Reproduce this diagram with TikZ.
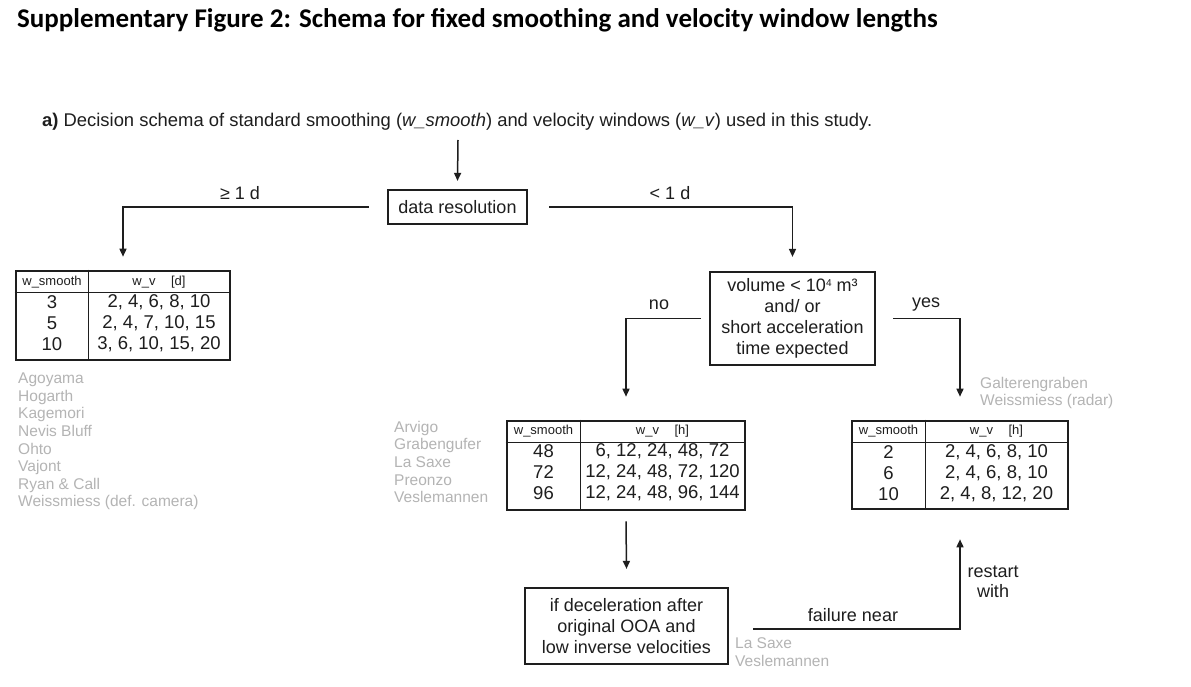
\documentclass[tikz,border=0pt]{standalone}
\usepackage{fontspec}
\setmainfont{Liberation Sans}
\newfontfamily\titlefont{Carlito}
\usetikzlibrary{arrows.meta,calc}
\definecolor{sitegray}{HTML}{B4B4B4}
\definecolor{ink}{HTML}{1E1E1E}
\begin{document}
\begin{tikzpicture}[x=1pt,y=-1pt,
  every node/.style={text=ink},
  box/.style={draw=ink,line width=2.2pt,inner sep=0pt,align=center,font=\fontsize{18}{20.8}\selectfont},
  tab/.style={draw=ink,line width=2.6pt,inner sep=0pt},
  rule/.style={draw=ink,line width=1pt},
  conn/.style={draw=ink,line width=1.5pt,-{Triangle[length=8pt,width=7pt]}},
  lbl/.style={font=\fontsize{18}{21}\selectfont,inner sep=0pt},
  site/.style={text=sitegray,font=\fontsize{15.5}{17.6}\selectfont,align=left,inner sep=0pt,anchor=west},
  hdr/.style={font=\fontsize{13}{15}\selectfont,inner sep=0pt},
  cell/.style={font=\fontsize{18.5}{21}\selectfont,inner sep=0pt,align=center}]
\useasboundingbox (0,0) rectangle (1191,687);
\fill[white] (0,0) rectangle (1191,687);

% title and subtitle
\node[anchor=west,inner sep=0pt,text=black,font=\titlefont\bfseries\fontsize{27}{31}\selectfont] (title) at (17,20)
  {Supplementary Figure 2: Schema for fixed smoothing and velocity window lengths};
\node[anchor=west,inner sep=0pt,font=\fontsize{18.4}{21}\selectfont] (sub) at (42,122)
  {\textbf{a)} Decision schema of standard smoothing (\textit{w\_smooth}) and velocity windows (\textit{w\_v}) used in this study.};

% data resolution
\node[box,minimum width=139,minimum height=34] (dr) at (457.5,207) {data resolution};
\coordinate (top) at (458,140);
\draw[conn] (top) -- ([yshift=8pt]dr.north);

% left table (daily)
\node[tab,minimum width=214,minimum height=89] (t1) at (123,315.5) {};
\draw[rule] (t1.west |- 0,292) -- (t1.east |- 0,292);
\draw[rule] (t1.north -| 88,0) -- (t1.south -| 88,0);
\node[hdr] (t1h1) at (52,282) {w\_smooth};
\node[hdr] (t1h2) at (159,282) {w\_v\hspace{1.2em}[d]};
\node[cell] (t1c1) at (52,323.5) {3\\5\\10};
\node[cell] (t1c2) at (159,323.5) {2, 4, 6, 8, 10\\2, 4, 7, 10, 15\\3, 6, 10, 15, 20};

\draw[conn] ([xshift=-18pt]dr.west) -| ([yshift=13pt]t1.north);
\node[lbl] (l1d) at (240,193) {≥ 1 d};

% volume decision
\node[box,minimum width=165,minimum height=93] (vol) at (792.5,318.5)
  {volume < 10\raisebox{0.55ex}{\fontsize{10}{10}\selectfont 4} m³\\and/ or\\short acceleration\\time expected};
\draw[conn] ([xshift=21pt]dr.east) -| ([yshift=14pt]vol.north);
\node[lbl] (s1d) at (670,193) {< 1 d};

% middle table (hourly, no)
\node[tab,minimum width=238,minimum height=89] (t2) at (626,465.5) {};
\draw[rule] (t2.west |- 0,442) -- (t2.east |- 0,442);
\draw[rule] (t2.north -| 580,0) -- (t2.south -| 580,0);
\node[hdr] (t2h1) at (543.5,431.5) {w\_smooth};
\node[hdr] (t2h2) at (662.5,431.5) {w\_v\hspace{1.2em}[h]};
\node[cell] (t2c1) at (543.5,472.5) {48\\72\\96};
\node[cell] (t2c2) at (662.5,472.5) {6, 12, 24, 48, 72\\12, 24, 48, 72, 120\\12, 24, 48, 96, 144};

\draw[conn] ([xshift=-8pt]vol.west) -| ([yshift=23pt]t2.north);
\node[lbl] (no) at (659,305) {no};

% right table (hourly, yes)
\node[tab,minimum width=216,minimum height=88] (t3) at (960,465) {};
\draw[rule] (t3.west |- 0,442) -- (t3.east |- 0,442);
\draw[rule] (t3.north -| 925,0) -- (t3.south -| 925,0);
\node[hdr] (t3h1) at (888.5,431.5) {w\_smooth};
\node[hdr] (t3h2) at (996.5,431.5) {w\_v\hspace{1.2em}[h]};
\node[cell] (t3c1) at (888.5,473) {2\\6\\10};
\node[cell] (t3c2) at (996.5,473) {2, 4, 6, 8, 10\\2, 4, 6, 8, 10\\2, 4, 8, 12, 20};

\draw[conn] ([xshift=17pt]vol.east) -| ([yshift=23pt]t3.north);
\node[lbl] (yes) at (926,305) {yes};

% bottom box
\node[box,minimum width=203,minimum height=76] (bb) at (626.5,626)
  {if deceleration after\\original OOA and\\low inverse velocities};
\draw[conn] ([yshift=-10pt]t2.south) -- ([yshift=18pt]bb.north);
\draw[conn] ([xshift=24pt,yshift=-3pt]bb.east) -| ([yshift=-29pt]t3.south);
\node[lbl] (fn) at (853,615) {failure near};
\node[lbl,align=center,font=\fontsize{18}{20}\selectfont] (rw) at (993,582) {restart\\with};

% site lists
\node[site] (s1) at (18,441.5) {Agoyama\\Hogarth\\Kagemori\\Nevis Bluff\\Ohto\\Vajont\\Ryan \& Call\\Weissmiess (def. camera)};
\node[site] (s2) at (394,462) {Arvigo\\Grabengufer\\La Saxe\\Preonzo\\Veslemannen};
\node[site] (s3) at (980,393) {Galterengraben\\Weissmiess (radar)};
\node[site] (s4) at (735,652) {La Saxe\\Veslemannen};
\end{tikzpicture}
\end{document}
